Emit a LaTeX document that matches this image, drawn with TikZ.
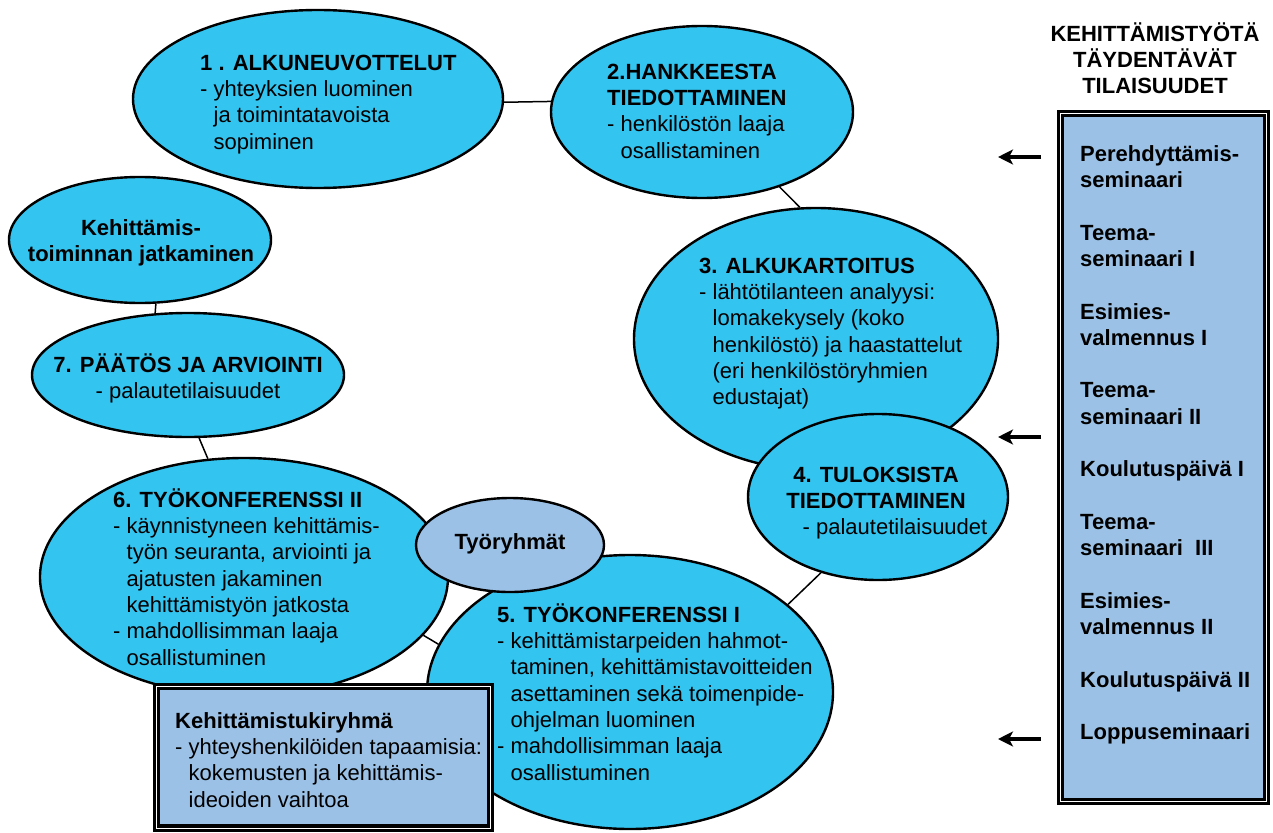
\documentclass[tikz,border=0pt]{standalone}
\usepackage{fontspec}
\setmainfont{Liberation Sans}
\usetikzlibrary{shapes.geometric,arrows.meta}
\definecolor{cyanfill}{RGB}{51,196,240}
\definecolor{lightfill}{RGB}{155,194,230}
\newcommand\TopStrut{\rule{0pt}{22pt}}
\newcommand\Ind{\hphantom{- }}
\begin{document}
\begin{tikzpicture}[x=1pt,y=-1pt,
  bub/.style={ellipse, draw=black, line width=2.4pt, fill=cyanfill, inner sep=0pt},
  lbub/.style={bub, fill=lightfill},
  conn/.style={line width=1.5pt},
  txt/.style={inner sep=0pt, font=\fontsize{22}{26.3}\selectfont, align=left, anchor=north west},
  ctxt/.style={txt, align=center, anchor=north},
  frame/.style={draw=black, fill=lightfill, line width=3.3pt, double=white, double distance=1pt, inner sep=0pt},
  arr/.style={line width=4pt, -{Stealth[length=15pt,width=15pt,inset=4pt]}}
]
\useasboundingbox (0,0) rectangle (1273,832);

% ellipses
\node[bub, minimum width=370pt, minimum height=178pt] (e1) at (318,99) {};
\node[bub, minimum width=302pt, minimum height=172pt] (e2) at (702,112) {};
\node[bub, minimum width=262pt, minimum height=126pt] (k) at (140,240) {};
\node[bub, minimum width=312pt, minimum height=124pt] (e7) at (188,375) {};
\node[bub, minimum width=364pt, minimum height=262pt] (e3) at (816,339) {};
\node[bub, minimum width=260pt, minimum height=166pt] (e4) at (878,497) {};
\node[bub, minimum width=408pt, minimum height=238pt] (e6) at (244,577) {};
\node[bub, minimum width=406pt, minimum height=274pt] (e5) at (630,692) {};
\node[lbub, minimum width=188pt, minimum height=94pt] (tr) at (510,545) {};

% connectors
\draw[conn] (e1.-1) -- (e2.176.5);
\draw[conn] (e2.-44) -- (e3.97);
\draw[conn] (e4.-127) -- (e5.29);
\draw[conn] (e6.-18) -- (e5.166);
\draw[conn] (e7.-80) -- (e6.107);
\draw[conn] (k.-76) -- (e7.118);

% boxes
\node[frame, minimum width=334pt, minimum height=141.5pt] (kbox) at (323.5,757.25) {};
\node[frame, minimum width=206pt, minimum height=688pt] (rbox) at (1163.5,457.5) {};

% texts
\node[txt] (t1) at (200,48) {\TopStrut\textbf{1 . ALKUNEUVOTTELUT}\\- yhteyksien luominen\\\Ind ja toimintatavoista\\\Ind sopiminen};
\node[txt] (t2) at (607,57) {\TopStrut\textbf{2.HANKKEESTA}\\\textbf{TIEDOTTAMINEN}\\- henkilöstön laaja\\\Ind osallistaminen};
\node[txt] (t3) at (699,251) {\TopStrut\textbf{3. ALKUKARTOITUS}\\- lähtötilanteen analyysi:\\\Ind lomakekysely (koko\\\Ind henkilöstö) ja haastattelut\\\Ind (eri henkilöstöryhmien\\\Ind edustajat)};
\node[ctxt] (t4) at (876,460) {\TopStrut\textbf{4. TULOKSISTA}\\\textbf{TIEDOTTAMINEN}\\\hspace*{38pt}- palautetilaisuudet};
\node[txt] (t5) at (497,600) {\TopStrut\textbf{5. TYÖKONFERENSSI I}\\- kehittämistarpeiden hahmot-\\\Ind taminen, kehittämistavoitteiden\\\Ind asettaminen sekä toimenpide-\\\Ind ohjelman luominen\\- mahdollisimman laaja\\\Ind osallistuminen};
\node[txt] (t6) at (113,485) {\TopStrut\textbf{6. TYÖKONFERENSSI II}\\- käynnistyneen kehittämis-\\\Ind työn seuranta, arviointi ja\\\Ind ajatusten jakaminen\\\Ind kehittämistyön jatkosta\\- mahdollisimman laaja\\\Ind osallistuminen};
\node[ctxt] (t7) at (188,350) {\TopStrut\textbf{7. PÄÄTÖS JA ARVIOINTI}\\- palautetilaisuudet};
\node[ctxt] (tk) at (141,213) {\TopStrut\textbf{Kehittämis-}\\\textbf{toiminnan jatkaminen}};
\node[ctxt] (ttr) at (510,527) {\TopStrut\textbf{Työryhmät}};
\node[txt] (tkb) at (175,706) {\TopStrut\textbf{Kehittämistukiryhmä}\\- yhteyshenkilöiden tapaamisia:\\\Ind kokemusten ja kehittämis-\\\Ind ideoiden vaihtoa};
\node[ctxt] (th) at (1155,19) {\TopStrut\textbf{KEHITTÄMISTYÖTÄ}\\\textbf{TÄYDENTÄVÄT}\\\textbf{TILAISUUDET}};
\node[txt, font=\fontsize{22}{26.3}\selectfont\bfseries] (tl) at (1080,139) {\TopStrut Perehdyttämis-\\seminaari\\[26.3pt]Teema-\\seminaari I\\[26.3pt]Esimies-\\valmennus I\\[26.3pt]Teema-\\seminaari II\\[26.3pt]Koulutuspäivä I\\[26.3pt]Teema-\\seminaari\ \ III\\[26.3pt]Esimies-\\valmennus II\\[26.3pt]Koulutuspäivä II\\[26.3pt]Loppuseminaari};

% arrows
\coordinate (a1s) at (1041,157); \coordinate (a1e) at (998,157);
\coordinate (a2s) at (1041,437); \coordinate (a2e) at (998,437);
\coordinate (a3s) at (1041,739); \coordinate (a3e) at (998,739);
\draw[arr] (a1s) -- (a1e);
\draw[arr] (a2s) -- (a2e);
\draw[arr] (a3s) -- (a3e);
\end{tikzpicture}
\end{document}
